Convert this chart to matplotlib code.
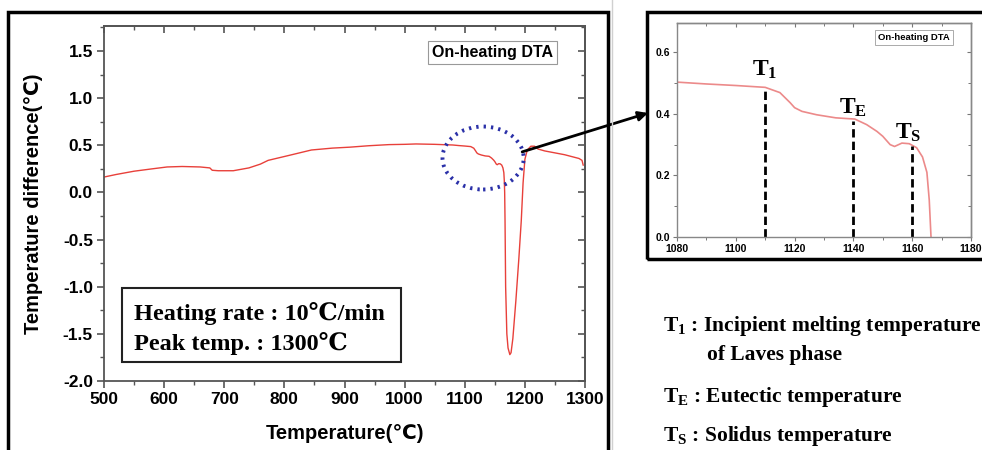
import matplotlib
matplotlib.use("Agg")
import matplotlib.pyplot as plt
from matplotlib.patches import Ellipse, Rectangle
from matplotlib.lines import Line2D
from matplotlib.ticker import MultipleLocator

plt.rcParams['mathtext.fontset'] = 'custom'
plt.rcParams['mathtext.rm'] = 'Liberation Serif:bold'
plt.rcParams['mathtext.bf'] = 'Liberation Serif:bold'
plt.rcParams['mathtext.it'] = 'Liberation Serif:bold'

# ---- data ----
temperature = [500, 520, 550, 580, 605, 630, 660, 676, 680, 690, 700, 715, 741,
               760, 773, 806, 845, 880, 909, 940, 974, 1000, 1019, 1050, 1071,
               1080, 1090, 1100, 1110, 1115, 1118.5, 1120, 1122.5, 1127.5, 1134,
               1140.5, 1144.5, 1148, 1150, 1152.5, 1154, 1156.5, 1159, 1161.5,
               1163.5, 1165, 1165.8, 1166.4, 1167, 1168, 1170, 1172, 1175, 1177,
               1180, 1185, 1190, 1194, 1197, 1200, 1204, 1210, 1216, 1222, 1233,
               1266, 1290, 1295, 1297]
delta_t = [0.163, 0.19, 0.225, 0.25, 0.27, 0.275, 0.27, 0.26, 0.235, 0.23, 0.23,
           0.23, 0.26, 0.3, 0.34, 0.39, 0.45, 0.47, 0.48, 0.495, 0.507, 0.51,
           0.514, 0.51, 0.505, 0.503, 0.497, 0.492, 0.486, 0.469, 0.436, 0.42,
           0.408, 0.397, 0.387, 0.383, 0.365, 0.343, 0.327, 0.30, 0.294, 0.305,
           0.303, 0.29, 0.26, 0.21, 0.12, 0.0, -0.3, -1.0, -1.5, -1.65, -1.72,
           -1.70, -1.55, -1.15, -0.7, -0.3, 0.1, 0.35, 0.45, 0.49, 0.49, 0.46,
           0.44, 0.40, 0.36, 0.34, 0.29]

main_xticks = [500, 600, 700, 800, 900, 1000, 1100, 1200, 1300]
main_yticks = [-2.0, -1.5, -1.0, -0.5, 0.0, 0.5, 1.0, 1.5]
inset_xticks = [1080, 1100, 1120, 1140, 1160, 1180]
inset_yticks = [0.0, 0.2, 0.4, 0.6]

marker_names = ['T_1', 'T_E', 'T_S']
marker_temps = [1110, 1140, 1160]
marker_tops = [0.485, 0.376, 0.294]

W, H = 982, 450
def fx(px):
    return px / W
def fy(py):
    return 1 - py / H

fig = plt.figure(figsize=(9.82, 4.5), dpi=100)

sans = ['Liberation Sans', 'DejaVu Sans']
serif = ['Liberation Serif', 'DejaVu Serif', 'DejaVu Sans']

# ---- outer frames ----
fig.add_artist(Rectangle((fx(8), fy(470)), fx(608) - fx(8), fy(12) - fy(470),
                         transform=fig.transFigure, fill=False, lw=2.5,
                         edgecolor='black', clip_on=False))
fig.add_artist(Rectangle((fx(647), fy(259)), fx(990) - fx(647), fy(12) - fy(259),
                         transform=fig.transFigure, fill=False, lw=2.5,
                         edgecolor='black', clip_on=False))
fig.add_artist(Line2D([fx(611.5), fx(611.5)], [0, 1], transform=fig.transFigure,
                      color='#d0d0d0', lw=1))

# ---- main axes ----
ax = fig.add_axes([fx(104), fy(381), fx(585) - fx(104), fy(26) - fy(381)])
ax.plot(temperature, delta_t, color='#e8403a', lw=1.0)
ax.set_xlim(500, 1300)
ax.set_ylim(-2.0, 1.765)
ax.set_xticks(main_xticks)
ax.set_yticks(main_yticks)
ax.set_xticklabels([str(v) for v in main_xticks])
ax.set_yticklabels(['%.1f' % v for v in main_yticks])
ax.xaxis.set_minor_locator(MultipleLocator(50))
ax.yaxis.set_minor_locator(MultipleLocator(0.25))
for lab in ax.get_xticklabels() + ax.get_yticklabels():
    lab.set_fontfamily(sans)
    lab.set_fontweight('bold')
    lab.set_fontsize(12.5)
ax.tick_params(which='major', direction='out', length=5, width=1.2,
               color='#555555', pad=3)
ax.tick_params(which='minor', direction='out', length=3, width=1.0,
               color='#555555')
axt = ax.secondary_xaxis('top')
axt.set_xticks(main_xticks)
axt.xaxis.set_minor_locator(MultipleLocator(50))
axt.tick_params(which='major', direction='in', length=5, width=1.2,
                color='#555555', labeltop=False)
axt.tick_params(which='minor', direction='in', length=3, width=1.0,
                color='#555555')
axr = ax.secondary_yaxis('right')
axr.set_yticks(main_yticks)
axr.yaxis.set_minor_locator(MultipleLocator(0.25))
axr.tick_params(which='major', direction='in', length=5, width=1.2,
                color='#555555', labelright=False)
axr.tick_params(which='minor', direction='in', length=3, width=1.0,
                color='#555555')
for sp in list(ax.spines.values()) + [axt.spines['top'], axr.spines['right']]:
    sp.set_linewidth(1.3)
    sp.set_color('#555555')

ax.set_xlabel('Temperature(℃)', fontfamily=sans, fontweight='bold',
              fontsize=14.5, labelpad=12)
ax.set_ylabel('Temperature difference(℃)', fontfamily=sans, fontweight='bold',
              fontsize=14.5, labelpad=14)

ax.text(0.808, 0.926, 'On-heating DTA', transform=ax.transAxes, ha='center',
        va='center', fontfamily=sans, fontweight='bold', fontsize=11.5,
        bbox=dict(boxstyle='square,pad=0.25', fc='white', ec='#999999', lw=0.8))

ax.add_patch(Rectangle((0.037, 0.054), 0.58, 0.208, transform=ax.transAxes,
                       fill=False, lw=1.5, edgecolor='#222222'))
ax.text(0.062, 0.19, 'Heating rate : 10℃/min', transform=ax.transAxes,
        ha='left', va='center', fontfamily=serif, fontweight='bold',
        fontsize=17.5)
ax.text(0.062, 0.105, 'Peak temp. : 1300℃', transform=ax.transAxes,
        ha='left', va='center', fontfamily=serif, fontweight='bold',
        fontsize=17.5)

ax.add_patch(Ellipse((1130.5, 0.365), 135, 0.668, fill=False,
                     edgecolor='#2a30a8', lw=2.8, linestyle=(0, (0.6, 1.3)),
                     zorder=5))

# ---- arrow ----
ax.annotate('', xy=(fx(648), fy(113)), xycoords='figure fraction',
            xytext=(1195.5, 0.43), textcoords='data',
            arrowprops=dict(arrowstyle='-|>', color='black', lw=2,
                            mutation_scale=14, shrinkA=0, shrinkB=0),
            annotation_clip=False)

# ---- inset axes ----
ins = fig.add_axes([fx(677), fy(237), fx(971) - fx(677), fy(23) - fy(237)])
ins.plot(temperature, delta_t, color='#ec8a8a', lw=1.2)
ins.set_xlim(1080, 1180)
ins.set_ylim(0.0, 0.695)
ins.set_xticks(inset_xticks)
ins.set_yticks(inset_yticks)
ins.set_xticklabels([str(v) for v in inset_xticks])
ins.set_yticklabels(['%.1f' % v for v in inset_yticks])
ins.xaxis.set_minor_locator(MultipleLocator(10))
ins.yaxis.set_minor_locator(MultipleLocator(0.1))
for lab in ins.get_xticklabels() + ins.get_yticklabels():
    lab.set_fontfamily(sans)
    lab.set_fontweight('bold')
    lab.set_fontsize(7.5)
ins.tick_params(which='major', direction='out', length=3, width=0.8,
                color='#777777', pad=2)
ins.tick_params(which='minor', direction='out', length=2, width=0.7,
                color='#777777')
it = ins.secondary_xaxis('top')
it.set_xticks(inset_xticks)
it.xaxis.set_minor_locator(MultipleLocator(10))
it.tick_params(which='major', direction='in', length=3, width=0.8,
               color='#777777', labeltop=False)
it.tick_params(which='minor', direction='in', length=2, width=0.7,
               color='#777777')
ir = ins.secondary_yaxis('right')
ir.set_yticks(inset_yticks)
ir.yaxis.set_minor_locator(MultipleLocator(0.1))
ir.tick_params(which='major', direction='in', length=3, width=0.8,
               color='#777777', labelright=False)
ir.tick_params(which='minor', direction='in', length=2, width=0.7,
               color='#777777')
for sp in list(ins.spines.values()) + [it.spines['top'], ir.spines['right']]:
    sp.set_linewidth(1.0)
    sp.set_color('#888888')

ins.text(0.806, 0.933, 'On-heating DTA', transform=ins.transAxes, ha='center',
         va='center', fontfamily=sans, fontweight='bold', fontsize=6.8,
         bbox=dict(boxstyle='square,pad=0.3', fc='white', ec='#aaaaaa', lw=0.7))

label_pos = [(1110, 0.545), (1140, 0.423), (1158.6, 0.34)]
for name, t, top, (lx, ly) in zip(marker_names, marker_temps, marker_tops, label_pos):
    ins.plot([t, t], [0, top], color='black', lw=2, linestyle=(0, (3, 1.5)))
    ins.text(lx, ly, r'$\mathbf{%s}$' % name, ha='center', va='center',
             fontsize=17)

# ---- right-side legend text ----
fs = 15.5
fig.text(fx(663), fy(326), r'$\mathbf{T_1}$ : Incipient melting temperature',
         ha='left', va='center', fontfamily=serif, fontweight='bold',
         fontsize=fs)
fig.text(fx(707), fy(355), 'of Laves phase', ha='left', va='center',
         fontfamily=serif, fontweight='bold', fontsize=fs)
fig.text(fx(663), fy(397), r'$\mathbf{T_E}$ : Eutectic temperature',
         ha='left', va='center', fontfamily=serif, fontweight='bold',
         fontsize=fs)
fig.text(fx(663), fy(436), r'$\mathbf{T_S}$ : Solidus temperature',
         ha='left', va='center', fontfamily=serif, fontweight='bold',
         fontsize=fs)

fig.savefig('out.png', dpi=100)
